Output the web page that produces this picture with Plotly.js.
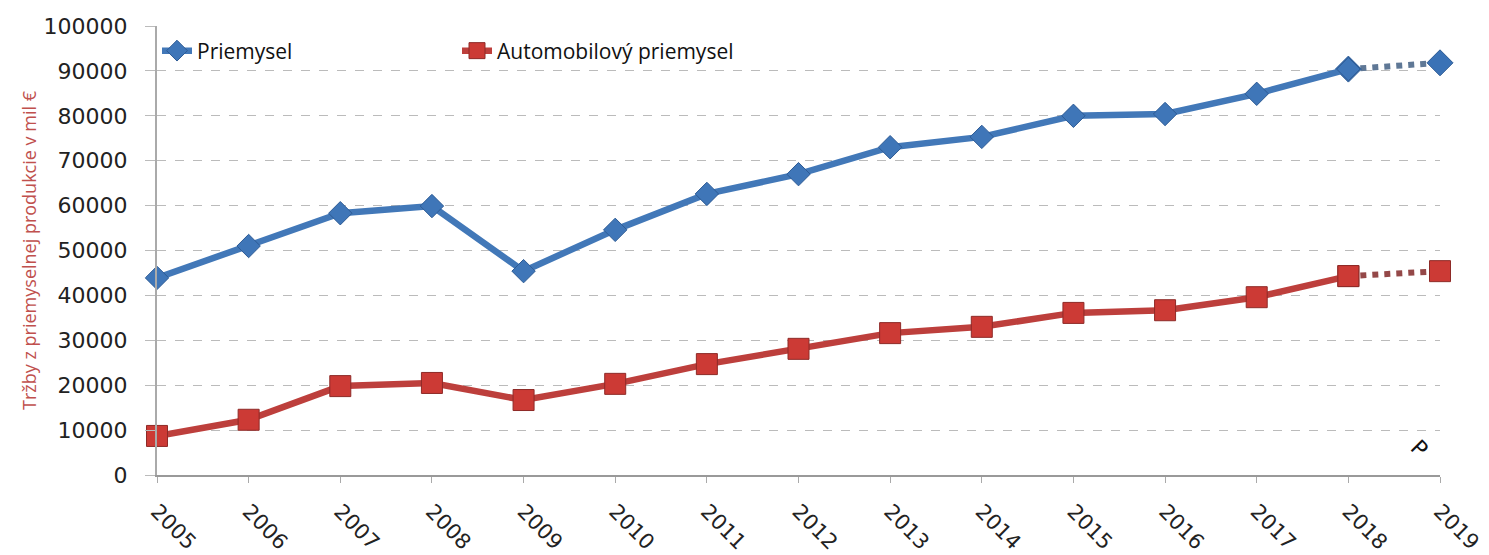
<!DOCTYPE html>
<html><head><meta charset="utf-8">
<script src="https://cdn.plot.ly/plotly-3.0.1.min.js"></script>
<style>body{margin:0;background:#fff}#c{width:1489px;height:555px}</style>
</head><body><div id="c"></div>
<script>
const years = ['2005','2006','2007','2008','2009','2010','2011','2012','2013','2014','2015','2016','2017','2018','2019'];
const priemysel = [43900,51000,58300,59900,45400,54600,62600,67000,73000,75300,80000,80400,84900,90400,91800];
const automobil = [8700,12300,19800,20500,16700,20300,24700,28100,31600,33000,36100,36700,39600,44300,45400];
const yTicks = [0,10000,20000,30000,40000,50000,60000,70000,80000,90000,100000];
const nSolid = 14;

const blue = '#4278b8', red = '#bd3f3c';
const traces = [
  {x: years.slice(nSolid-1), y: priemysel.slice(nSolid-1), showlegend:false, mode:'lines+markers', cliponaxis:false,
   line:{color:'#5f7896',width:6,dash:'dot'}, marker:{symbol:'diamond',size:20,color:'#3a72b6',line:{color:'#2d5b95',width:1}}},
  {x: years.slice(nSolid-1), y: automobil.slice(nSolid-1), showlegend:false, mode:'lines+markers', cliponaxis:false,
   line:{color:'#944848',width:6,dash:'dot'}, marker:{symbol:'square',size:21,color:'#cc3a35',line:{color:'#8e2a27',width:1}}},
  {x: years.slice(0,nSolid), y: priemysel.slice(0,nSolid), name:'Priemysel', mode:'lines+markers', cliponaxis:false,
   line:{color:blue,width:6.5}, marker:{symbol:'diamond',size:18,color:'#3f76b8',line:{color:'#2d5b95',width:1}}},
  {x: years.slice(0,nSolid), y: automobil.slice(0,nSolid), name:'Automobilový priemysel', mode:'lines+markers', cliponaxis:false,
   line:{color:red,width:6.5}, marker:{symbol:'square',size:21,color:'#cc3a35',line:{color:'#8e2a27',width:1}}}
];

const layout = {
  width:1489, height:555,
  margin:{l:157,r:49,t:26,b:80},
  paper_bgcolor:'#fff', plot_bgcolor:'#fff',
  font:{family:'Liberation Sans, Arial, sans-serif',color:'#222'},
  showlegend:true,
  legend:{orientation:'h',x:0.0,y:0.99,xanchor:'left',yanchor:'top',bgcolor:'rgba(0,0,0,0)',
    font:{family:'Open Sans, sans-serif',size:21,color:'#111'},itemwidth:30,tracegroupgap:0,entrywidth:255},
  xaxis:{type:'category',categoryorder:'array',categoryarray:years,range:[0,14],tickangle:45,showgrid:false,showline:true,linecolor:'#999',linewidth:2,
    ticks:'outside',ticklen:6,tickcolor:'#aaa',ticklabelstandoff:8,
    tickfont:{size:21,family:'DejaVu Sans, sans-serif',color:'#222'},zeroline:false},
  yaxis:{range:[0,100000],tickvals:yTicks,ticktext:yTicks.map(String),showgrid:true,gridcolor:'#bbb',griddash:'dash',gridwidth:1,
    showline:true,linecolor:'#aaa',linewidth:2,ticks:'outside',ticklen:10,tickcolor:'#bbb',zeroline:false,ticklabelstandoff:13,
    tickfont:{size:22,family:'DejaVu Sans, sans-serif',color:'#222'},
    title:{text:'Tržby z priemyselnej produkcie v mil €',font:{size:18,color:'#c0504d',family:'Open Sans, sans-serif'},standoff:2}},
  annotations:[{x:0.984,y:0.06,xref:'paper',yref:'paper',xanchor:'center',yanchor:'middle',text:'P',showarrow:false,textangle:45,
    font:{size:22,family:'DejaVu Sans, sans-serif',color:'#111'}}]
};
Plotly.newPlot('c',traces,layout,{displayModeBar:false,staticPlot:true});
</script></body></html>
